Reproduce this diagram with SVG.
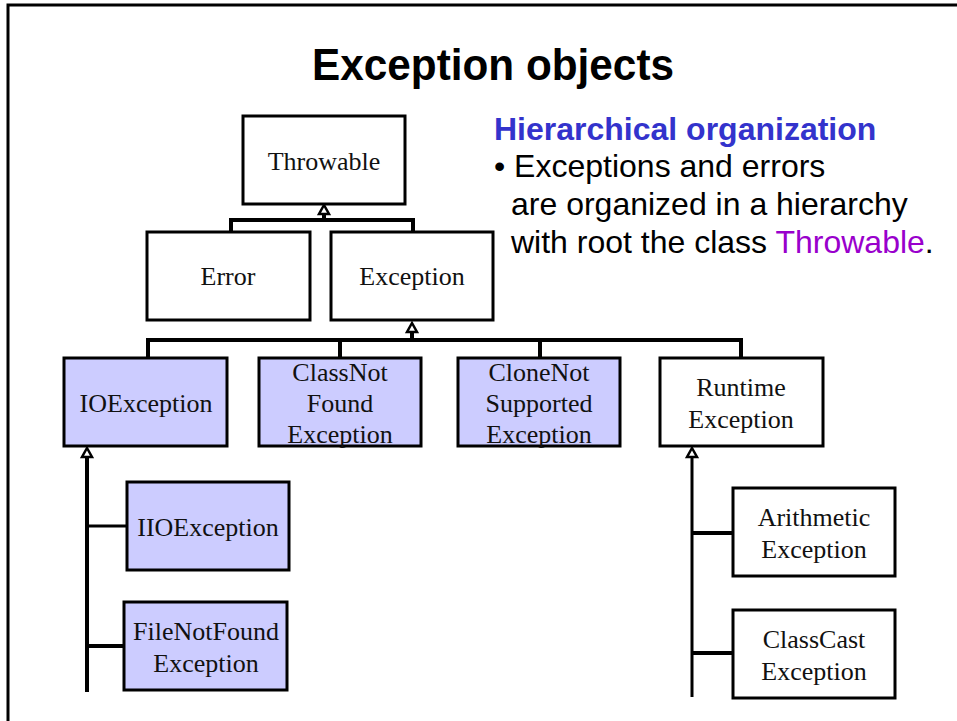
<svg xmlns="http://www.w3.org/2000/svg" width="957" height="721" viewBox="0 0 957 721">
  <defs>
    <style>
      .box { stroke: #000; stroke-width: 3; fill: #fff; }
      .box.checked { fill: #ccccff; }
      .lbl { font-family: "Liberation Serif", "Times New Roman", serif; font-size: 26px; fill: #111; text-anchor: middle; }
      .wire { fill: none; stroke: #000; stroke-width: 4; }
      .thin { stroke-width: 3; }
      .head { fill: #fff; stroke: #000; stroke-width: 2.5; stroke-linejoin: miter; }
      .sans { font-family: "Liberation Sans", Arial, sans-serif; }
    </style>
  </defs>
  <rect width="957" height="721" fill="#fff"/>
  <!-- slide frame -->
  <path d="M8,721 V5 H957" fill="none" stroke="#000" stroke-width="3"/>

  <text x="493" y="80" class="sans" font-size="44" font-weight="bold" text-anchor="middle" textLength="362" lengthAdjust="spacingAndGlyphs">Exception objects</text>

  <g id="notes" class="sans">
    <text x="494" y="140" font-size="32" font-weight="bold" fill="#3333cc">Hierarchical organization</text>
    <text x="494" y="177" font-size="32" fill="#000">• Exceptions and errors</text>
    <text x="511" y="215" font-size="32" fill="#000">are organized in a hierarchy</text>
    <text x="511" y="253" font-size="32" fill="#000">with root the class <tspan fill="#9900cc">Throwable</tspan>.</text>
  </g>

  <g id="connectors">
    <!-- Throwable <- Error, Exception -->
    <path class="wire" d="M324,213 V220 M231,232 V220 H413 V232"/>
    <path class="head" d="M324,205 L329,214 H319 Z"/>
    <!-- Exception <- checked / runtime -->
    <path class="wire" d="M412,331 V340 M148,358 V340 H741 V358 M340,340 V358 M540,340 V358"/>
    <path class="head" d="M412,323 L417,332 H407 Z"/>
    <!-- IOException subtree -->
    <path class="wire" d="M87,456 V692 M87,646 H124"/>
    <path class="wire thin" d="M87,526 H127"/>
    <path class="head" d="M87,448 L92,457 H82 Z"/>
    <!-- RuntimeException subtree -->
    <path class="wire thin" d="M692,457 V697"/>
    <path class="wire" d="M692,533 H732 M692,653 H732"/>
    <path class="head" d="M692,448 L697,457 H687 Z"/>
  </g>

  <g id="throwable">
    <rect class="box" x="243" y="116" width="162" height="88"/>
    <text class="lbl" x="324" y="170">Throwable</text>
  </g>
  <g id="error">
    <rect class="box" x="147" y="232" width="163" height="88"/>
    <text class="lbl" x="228" y="285">Error</text>
  </g>
  <g id="exception">
    <rect class="box" x="331" y="232" width="162" height="88"/>
    <text class="lbl" x="412" y="285">Exception</text>
  </g>
  <g id="ioexception">
    <rect class="box checked" x="64" y="358" width="163" height="88"/>
    <text class="lbl" x="146" y="412">IOException</text>
  </g>
  <g id="classnotfound">
    <rect class="box checked" x="259" y="358" width="162" height="88"/>
    <text class="lbl" x="340" y="381">ClassNot</text>
    <text class="lbl" x="340" y="412">Found</text>
    <text class="lbl" x="340" y="443">Exception</text>
  </g>
  <g id="clonenotsupported">
    <rect class="box checked" x="458" y="358" width="162" height="88"/>
    <text class="lbl" x="539" y="381">CloneNot</text>
    <text class="lbl" x="539" y="412">Supported</text>
    <text class="lbl" x="539" y="443">Exception</text>
  </g>
  <g id="runtime">
    <rect class="box" x="660" y="358" width="163" height="88"/>
    <text class="lbl" x="741" y="396">Runtime</text>
    <text class="lbl" x="741" y="428">Exception</text>
  </g>
  <g id="iioexception">
    <rect class="box checked" x="127" y="482" width="162" height="88"/>
    <text class="lbl" x="208" y="536">IIOException</text>
  </g>
  <g id="filenotfound">
    <rect class="box checked" x="124" y="602" width="163" height="88"/>
    <text class="lbl" x="206" y="640">FileNotFound</text>
    <text class="lbl" x="206" y="672">Exception</text>
  </g>
  <g id="arithmetic">
    <rect class="box" x="733" y="488" width="162" height="88"/>
    <text class="lbl" x="814" y="526">Arithmetic</text>
    <text class="lbl" x="814" y="558">Exception</text>
  </g>
  <g id="classcast">
    <rect class="box" x="733" y="610" width="162" height="88"/>
    <text class="lbl" x="814" y="648">ClassCast</text>
    <text class="lbl" x="814" y="680">Exception</text>
  </g>
</svg>
